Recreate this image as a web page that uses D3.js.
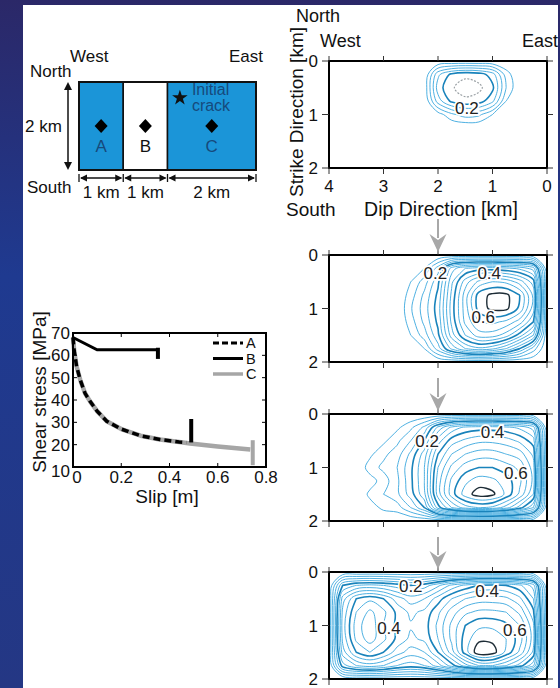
<!DOCTYPE html>
<html><head><meta charset="utf-8">
<script src="https://cdn.jsdelivr.net/npm/d3@7"></script>
<style>body{margin:0;background:#1f2f7a}svg{display:block}text{font-family:"Liberation Sans",Arial,sans-serif}</style>
</head><body><svg id="c" width="560" height="688"></svg>
<script>
// ---------- schematic ----------
const segWidths = [1, 1, 2];
const segNames = ["A", "B", "C"];
const segRupture = [true, false, true];
const crackPos = [2.28, 0.36];

// ---------- shear stress vs slip ----------
const stressTicks = [10, 20, 30, 40, 50, 60, 70];
const slipTicks = [0, 0.2, 0.4, 0.6, 0.8];
const slipA = [0, 0.005, 0.015, 0.03, 0.05, 0.07, 0.1, 0.14, 0.2, 0.28, 0.36, 0.44, 0.47];
const stressA = [68, 62, 55, 49, 43, 39.5, 35, 30.5, 27, 24, 22.3, 21.2, 21];
const slipB = [0, 0.1, 0.35];
const stressB = [68, 62.5, 62.5];
const slipC = [0, 0.005, 0.015, 0.03, 0.05, 0.07, 0.1, 0.14, 0.2, 0.28, 0.36, 0.44, 0.485, 0.6, 0.735];
const stressC = [68, 62, 55, 49, 43, 39.5, 35, 30.5, 27, 24, 22.3, 21.2, 20.5, 19.2, 17.8];
const seriesNames = ["A", "B", "C"];
const endSlip = [0.49, 0.352, 0.745];
const endLow = [21, 58.4, 10.8];
const endHigh = [31.5, 63.4, 22];

// ---------- slip distributions ----------
const dipTicks = [4, 3, 2, 1, 0];
const strikeTicks = [0, 1, 2];
const gridDip = [4, 3.75, 3.5, 3.25, 3, 2.75, 2.5, 2.25, 2, 1.75, 1.5, 1.25, 1, 0.75, 0.5, 0.25, 0];
const gridStrike = [0, 0.25, 0.5, 0.75, 1, 1.25, 1.5, 1.75, 2];
const levels = [0.04, 0.08, 0.12, 0.16, 0.2, 0.24, 0.28, 0.32, 0.36, 0.4, 0.44, 0.48, 0.52, 0.56, 0.6, 0.64, 0.68];

const slip1 = [
  [0,0,0,0,0,0,0,0,0,0,0,0,0,0,0,0,0],
  [0,0,0,0,0,0,0,0,0.15,0.21,0.23,0.22,0.18,0.06,0,0,0],
  [0,0,0,0,0,0,0,0.01,0.18,0.235,0.26,0.25,0.21,0.08,0,0,0],
  [0,0,0,0,0,0,0,0,0.14,0.21,0.23,0.22,0.17,0.04,0,0,0],
  [0,0,0,0,0,0,0,0,0.02,0.07,0.1,0.09,0.04,0,0,0,0],
  [0,0,0,0,0,0,0,0,0,0,0,0,0,0,0,0,0],
  [0,0,0,0,0,0,0,0,0,0,0,0,0,0,0,0,0],
  [0,0,0,0,0,0,0,0,0,0,0,0,0,0,0,0,0],
  [0,0,0,0,0,0,0,0,0,0,0,0,0,0,0,0,0]
];
const slip2 = [
  [0,0,0,0,0,0,0,0,0,0,0,0,0,0,0,0,0],
  [0,0,0,0,0,0,0,0.04,0.14,0.3,0.36,0.38,0.38,0.37,0.35,0.3,0],
  [0,0,0,0,0,0,0.04,0.1,0.19,0.35,0.46,0.53,0.56,0.55,0.5,0.42,0],
  [0,0,0,0,0,0,0.06,0.13,0.21,0.37,0.5,0.62,0.65,0.65,0.6,0.47,0],
  [0,0,0,0,0,0,0.075,0.14,0.22,0.38,0.5,0.62,0.65,0.65,0.59,0.46,0],
  [0,0,0,0,0,0,0.06,0.13,0.21,0.37,0.49,0.56,0.57,0.55,0.5,0.4,0],
  [0,0,0,0,0,0,0.04,0.1,0.19,0.34,0.44,0.5,0.5,0.46,0.38,0.28,0],
  [0,0,0,0,0,0,0,0.04,0.14,0.25,0.32,0.35,0.33,0.28,0.2,0.1,0],
  [0,0,0,0,0,0,0,0,0,0,0,0,0,0,0,0,0]
];
const slip3 = [
  [0,0,0,0,0,0,0,0,0,0,0,0,0,0,0,0,0],
  [0,0,0,0,0,0.03,0.07,0.13,0.25,0.33,0.37,0.38,0.38,0.37,0.35,0.3,0],
  [0,0,0,0,0.03,0.07,0.12,0.2,0.34,0.42,0.45,0.47,0.47,0.46,0.43,0.38,0],
  [0,0,0,0.03,0.07,0.1,0.17,0.26,0.4,0.48,0.52,0.54,0.54,0.52,0.5,0.43,0],
  [0,0,0,0.06,0.09,0.12,0.19,0.28,0.44,0.53,0.58,0.6,0.6,0.58,0.55,0.46,0],
  [0,0,0,0.02,0.06,0.11,0.19,0.28,0.46,0.57,0.63,0.66,0.65,0.62,0.57,0.47,0],
  [0,0,0,0.05,0.08,0.11,0.18,0.27,0.46,0.58,0.66,0.7,0.69,0.63,0.55,0.44,0],
  [0,0,0,0.02,0.05,0.06,0.12,0.2,0.38,0.48,0.54,0.56,0.55,0.5,0.42,0.32,0],
  [0,0,0,0,0,0,0,0,0,0,0,0,0,0,0,0,0]
];
const slip4 = [
  [0,0,0,0,0,0,0,0,0,0,0,0,0,0,0,0,0],
  [0,0.2,0.24,0.25,0.24,0.22,0.2,0.22,0.27,0.33,0.37,0.4,0.41,0.4,0.37,0.3,0],
  [0,0.3,0.4,0.43,0.4,0.34,0.3,0.32,0.38,0.44,0.48,0.5,0.5,0.49,0.45,0.36,0],
  [0,0.33,0.44,0.49,0.45,0.39,0.35,0.37,0.43,0.5,0.55,0.57,0.57,0.56,0.51,0.41,0],
  [0,0.34,0.46,0.51,0.44,0.39,0.365,0.38,0.45,0.53,0.6,0.63,0.63,0.61,0.56,0.45,0],
  [0,0.33,0.45,0.5,0.45,0.39,0.35,0.37,0.44,0.53,0.62,0.67,0.67,0.64,0.58,0.46,0],
  [0,0.3,0.4,0.44,0.4,0.34,0.3,0.32,0.4,0.5,0.62,0.71,0.7,0.63,0.55,0.43,0],
  [0,0.22,0.28,0.3,0.28,0.24,0.22,0.24,0.3,0.38,0.46,0.52,0.52,0.48,0.42,0.33,0],
  [0,0,0,0,0,0,0,0,0,0,0,0,0,0,0,0,0]
];
const labels1 = [[1.47, 0.88, "0.2"]];
const labels2 = [[2.05, 0.34, "0.2"], [1.06, 0.34, "0.4"], [1.17, 1.16, "0.6"]];
const labels3 = [[2.2, 0.5, "0.2"], [1.0, 0.34, "0.4"], [0.57, 1.1, "0.6"]];
const labels4 = [[2.5, 0.26, "0.2"], [1.1, 0.36, "0.4"], [2.9, 1.05, "0.4"], [0.59, 1.08, "0.6"]];

// ================= drawing =================
const svg = d3.select("#c");
const defs = svg.append("defs");
const grad = defs.append("linearGradient").attr("id", "bg").attr("x1", 0).attr("y1", 0).attr("x2", 0).attr("y2", 1);
[[0, "#2b2868"], [0.4, "#1f3a90"], [1, "#243784"]].forEach(([o, c]) => grad.append("stop").attr("offset", o).attr("stop-color", c));
svg.append("rect").attr("width", 560).attr("height", 688).attr("fill", "url(#bg)");
svg.append("rect").attr("x", 23).attr("y", 5).attr("width", 535).attr("height", 683).attr("fill", "#fff");

const BLUE = "#1b95d8", NAVY = "#164a7c";

// ---------- schematic ----------
{
  const g = svg.append("g");
  const sx = d3.scaleLinear().domain([0, 4]).range([79, 256]);
  const sy = d3.scaleLinear().domain([0, 2]).range([82, 170]);
  let acc = 0;
  const starts = segWidths.map(w => (acc += w) - w);
  segWidths.forEach((w, i) => {
    const x0 = sx(starts[i]), x1 = sx(starts[i] + w), xm = sx(starts[i] + w / 2);
    g.append("rect").attr("x", x0).attr("y", sy(0)).attr("width", x1 - x0).attr("height", sy(2) - sy(0))
      .attr("fill", segRupture[i] ? BLUE : "#fff").attr("stroke", "#111").attr("stroke-width", 1.5);
    const cy = sy(1);
    g.append("path").attr("d", `M${xm},${cy - 7}L${xm + 6.5},${cy}L${xm},${cy + 7}L${xm - 6.5},${cy}Z`).attr("fill", "#000");
    g.append("text").attr("x", xm).attr("y", cy + 26).attr("text-anchor", "middle").attr("font-size", 17)
      .attr("fill", segRupture[i] ? NAVY : "#111").text(segNames[i]);
    const ay = 178;
    g.append("line").attr("x1", x0 + 2).attr("x2", x1 - 2).attr("y1", ay).attr("y2", ay).attr("stroke", "#111").attr("stroke-width", 1.3);
    g.append("path").attr("d", `M${x0 + 1},${ay}l7,-3.5v7Z M${x1 - 1},${ay}l-7,-3.5v7Z`).attr("fill", "#111");
    g.append("text").attr("x", xm).attr("y", 198).attr("text-anchor", "middle").attr("font-size", 17).attr("fill", "#111")
      .text(w + " km");
  });
  [0, ...starts.slice(1), 4].forEach(k => g.append("line").attr("x1", sx(k)).attr("x2", sx(k)).attr("y1", 174).attr("y2", 182).attr("stroke", "#111").attr("stroke-width", 1.3));
  g.append("rect").attr("x", sx(0)).attr("y", sy(0)).attr("width", sx(4) - sx(0)).attr("height", sy(2) - sy(0))
    .attr("fill", "none").attr("stroke", "#111").attr("stroke-width", 2);
  g.append("path").attr("d", d3.symbol(d3.symbolStar, 75)()).attr("transform", `translate(${sx(crackPos[0])},${sy(crackPos[1])})`).attr("fill", "#111");
  g.append("text").attr("x", sx(crackPos[0]) + 12).attr("y", 95).attr("font-size", 16).attr("fill", NAVY).text("Initial");
  g.append("text").attr("x", sx(crackPos[0]) + 12).attr("y", 111).attr("font-size", 16).attr("fill", NAVY).text("crack");
  g.append("line").attr("x1", 68).attr("x2", 68).attr("y1", 86).attr("y2", 166).attr("stroke", "#111").attr("stroke-width", 1.5);
  g.append("path").attr("d", `M68,82l-4,8h8Z M68,170l-4,-8h8Z`).attr("fill", "#111");
  const t = (x, y, s, a) => g.append("text").attr("x", x).attr("y", y).attr("font-size", 17).attr("fill", "#111").attr("text-anchor", a || "start").text(s);
  t(70, 62, "West"); t(263, 62, "East", "end"); t(30, 77, "North"); t(25, 132, "2 km"); t(27, 193, "South");
}

// ---------- shear stress plot ----------
{
  const g = svg.append("g");
  const x = d3.scaleLinear().domain([0, 0.8]).range([73, 266]);
  const y = d3.scaleLinear().domain([10, 70]).range([467, 333]);
  const line = d3.line().x(d => x(d[0])).y(d => y(d[1]));
  const zip = (a, b) => a.map((v, i) => [v, b[i]]);
  const colors = ["#000", "#000", "#a6a6a6"];
  g.append("path").attr("d", line(zip(slipC, stressC))).attr("fill", "none").attr("stroke", colors[2]).attr("stroke-width", 4.5).attr("stroke-linejoin", "round");
  g.append("path").attr("d", line(zip(slipA, stressA))).attr("fill", "none").attr("stroke", "#000").attr("stroke-width", 3.5).attr("stroke-dasharray", "7,4");
  g.append("path").attr("d", line(zip(slipB, stressB))).attr("fill", "none").attr("stroke", "#000").attr("stroke-width", 3);
  endSlip.forEach((s, i) => g.append("line").attr("x1", x(s)).attr("x2", x(s)).attr("y1", y(endLow[i])).attr("y2", y(endHigh[i]))
    .attr("stroke", colors[i]).attr("stroke-width", 4));
  g.append("rect").attr("x", x(0)).attr("y", y(70)).attr("width", x(0.8) - x(0)).attr("height", y(10) - y(70)).attr("fill", "none").attr("stroke", "#000").attr("stroke-width", 2);
  stressTicks.forEach(v => {
    g.append("line").attr("x1", x(0)).attr("x2", x(0) + 4).attr("y1", y(v)).attr("y2", y(v)).attr("stroke", "#000");
    g.append("line").attr("x1", x(0.8)).attr("x2", x(0.8) - 4).attr("y1", y(v)).attr("y2", y(v)).attr("stroke", "#000");
    g.append("text").attr("x", 70).attr("y", y(v) + (v === 10 ? 4 : 0)).attr("dy", "0.36em").attr("text-anchor", "end").attr("font-size", 17).attr("fill", "#111").text(v);
  });
  slipTicks.forEach(v => {
    g.append("line").attr("x1", x(v)).attr("x2", x(v)).attr("y1", y(10)).attr("y2", y(10) - 4).attr("stroke", "#000");
    g.append("line").attr("x1", x(v)).attr("x2", x(v)).attr("y1", y(70)).attr("y2", y(70) + 4).attr("stroke", "#000");
    g.append("text").attr("x", x(v) + (v === 0 ? 4 : 0)).attr("y", 483).attr("text-anchor", "middle").attr("font-size", 17).attr("fill", "#111").text(v);
  });
  g.append("text").attr("transform", "translate(46,392) rotate(-90)").attr("text-anchor", "middle").attr("font-size", 19).attr("fill", "#111").text("Shear stress [MPa]");
  g.append("text").attr("x", 167).attr("y", 503).attr("text-anchor", "middle").attr("font-size", 19).attr("fill", "#111").text("Slip [m]");
  seriesNames.forEach((n, i) => {
    const ly = 343 + i * 15.5;
    const l = g.append("line").attr("x1", 213).attr("x2", 243).attr("y1", ly).attr("y2", ly).attr("stroke", colors[i]).attr("stroke-width", i === 2 ? 3.5 : 3);
    if (i === 0) l.attr("stroke-dasharray", "6,3");
    g.append("text").attr("x", 246).attr("y", ly + 5).attr("font-size", 14.5).attr("fill", "#111").text(n);
  });
}

// ---------- slip distribution panels ----------
const px = d3.scaleLinear().domain([4, 0]).range([329, 547]);
const PH = 107;
const panelTops = [61, 255, 414, 572];
const grids = [slip1, slip2, slip3, slip4];
const labelSets = [labels1, labels2, labels3, labels4];

grids.forEach((grid, p) => {
  const top = panelTops[p];
  const g = svg.append("g");
  const py = d3.scaleLinear().domain([0, 2]).range([top, top + PH]);
  const nx = gridDip.length, ny = gridStrike.length;
  const gi = d3.scaleLinear().domain([0, nx - 1]).range([gridDip[0], gridDip[nx - 1]]);
  const gj = d3.scaleLinear().domain([0, ny - 1]).range([gridStrike[0], gridStrike[ny - 1]]);
  const cid = "clip" + p;
  defs.append("clipPath").attr("id", cid).append("rect").attr("x", px(4)).attr("y", py(0)).attr("width", px(0) - px(4)).attr("height", py(2) - py(0));
  const cs = d3.contours().size([nx, ny]).thresholds(levels)(grid.flat());
  const used = cs.filter(c => c.coordinates.length);
  const maxLevel = d3.max(used, c => c.value);
  const line = d3.line().curve(d3.curveCatmullRomClosed.alpha(0.5));
  const cg = g.append("g").attr("clip-path", `url(#${cid})`).attr("fill", "none");
  used.forEach(c => {
    const major = Math.abs(c.value * 5 - Math.round(c.value * 5)) < 1e-6;
    const isTop = c.value === maxLevel;
    c.coordinates.forEach(poly => poly.forEach(ring => {
      const pts = ring.slice(0, -1).map(([a, b]) => [px(gi(a - 0.5)), py(gj(b - 0.5))]);
      const path = cg.append("path").attr("d", line(pts));
      if (isTop && p === 0) path.attr("stroke", "#9aa0a4").attr("stroke-width", 1.2).attr("stroke-dasharray", "2,1.5");
      else if (isTop) path.attr("stroke", "#1d2c36").attr("stroke-width", 1.4);
      else if (major) path.attr("stroke", "#1983bb").attr("stroke-width", 1.6);
      else path.attr("stroke", "#3aa7de").attr("stroke-width", 0.9);
    }));
  });
  labelSets[p].forEach(([d, s, t]) => {
    g.append("text").attr("x", px(d)).attr("y", py(s)).attr("dy", "0.36em").attr("text-anchor", "middle")
      .attr("font-size", 17).attr("fill", "#222").attr("stroke", "#fff").attr("stroke-width", 3.5)
      .attr("paint-order", "stroke").text(t);
  });
  g.append("rect").attr("x", px(4)).attr("y", py(0)).attr("width", px(0) - px(4)).attr("height", py(2) - py(0))
    .attr("fill", "none").attr("stroke", "#000").attr("stroke-width", 2);
  dipTicks.forEach(v => {
    g.append("line").attr("x1", px(v)).attr("x2", px(v)).attr("y1", py(0)).attr("y2", py(0) - 5).attr("stroke", "#333");
    g.append("line").attr("x1", px(v)).attr("x2", px(v)).attr("y1", py(2)).attr("y2", py(2) + 6).attr("stroke", "#333");
    if (p === 0) g.append("text").attr("x", px(v)).attr("y", 192).attr("text-anchor", "middle").attr("font-size", 17).attr("fill", "#111").text(v);
  });
  strikeTicks.forEach(v => {
    g.append("line").attr("x1", px(4) - 7).attr("x2", px(4)).attr("y1", py(v)).attr("y2", py(v)).attr("stroke", "#333");
    g.append("line").attr("x1", px(0)).attr("x2", px(0) + 6).attr("y1", py(v)).attr("y2", py(v)).attr("stroke", "#333");
    g.append("text").attr("x", 318).attr("y", py(v)).attr("dy", "0.36em").attr("text-anchor", "end").attr("font-size", 17).attr("fill", "#111").text(v);
  });
  if (p > 0) {
    const yTip = top - 3;
    const yStart = p === 1 ? 219 : panelTops[p - 1] + PH + 16;
    const ax = px(2);
    g.append("line").attr("x1", ax).attr("x2", ax).attr("y1", yStart).attr("y2", yTip - 14).attr("stroke", "#a8a8a8").attr("stroke-width", 2);
    g.append("path").attr("d", `M${ax},${yTip}L${ax - 8.5},${yTip - 18}L${ax},${yTip - 12}L${ax + 8.5},${yTip - 18}Z`).attr("fill", "#a8a8a8");
  }
});

{
  const t = (x, y, s, size, a) => svg.append("text").attr("x", x).attr("y", y).attr("font-size", size).attr("fill", "#111").attr("text-anchor", a || "start").text(s);
  t(296, 22, "North", 18); t(320, 47, "West", 18); t(558, 47, "East", 18, "end");
  t(286, 216, "South", 19); t(441, 216, "Dip Direction [km]", 19.5, "middle");
  svg.append("text").attr("transform", "translate(303,112) rotate(-90)").attr("text-anchor", "middle").attr("font-size", 19).attr("fill", "#111").text("Strike Direction [km]");
}
</script></body></html>
